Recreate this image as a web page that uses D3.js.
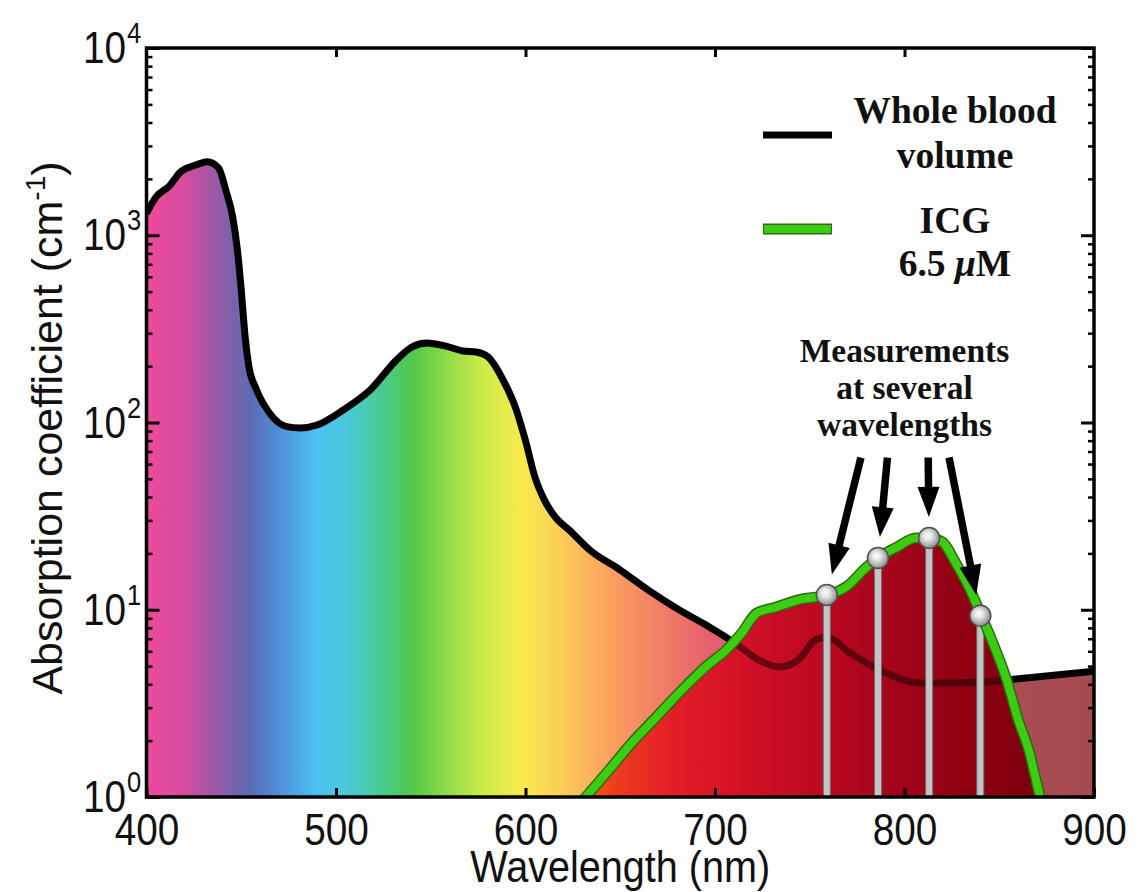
<!DOCTYPE html>
<html>
<head>
<meta charset="utf-8">
<script src="https://cdn.jsdelivr.net/npm/d3@7"></script>
<style>
  body { margin: 0; background: #fff; }
  svg { display: block; }
</style>
</head>
<body>
<div id="chart"></div>
<script>
// whole blood absorption (black curve)
const bloodNm = [400, 405, 412, 418, 426, 432, 438, 442, 445.5, 448, 450, 452, 454, 458, 465, 474, 481, 490, 504, 518, 532, 540, 548, 558, 567, 574, 580, 588, 595, 600, 605, 610, 616, 623, 634, 650, 665, 681, 697, 710, 723, 734, 744, 753, 759, 771, 790, 808, 825, 843, 854, 900]
const bloodMu = [1310, 1600, 1830, 2180, 2370, 2470, 2290, 1720, 1250, 830, 510, 290, 200, 150, 112, 95, 93.5, 97, 117, 149, 216, 253, 266, 256, 241, 238, 225, 170, 118, 80, 51, 38.5, 31, 26.7, 20.8, 16.3, 12.7, 10, 8.1, 6.7, 5.4, 4.95, 5.4, 6.9, 7.15, 5.9, 4.6, 4.06, 4.06, 4.11, 4.22, 4.7]

// ICG 6.5 uM (green outlined curve)
const icgNm = [630, 644, 656, 669, 681, 695, 706, 714, 722, 732, 744, 759, 769, 780, 786, 796, 806, 813, 820, 827, 834, 840, 846, 854, 860, 866, 869, 872]
const icgMu = [0.95, 1.39, 1.94, 2.67, 3.59, 4.95, 6.1, 7.5, 9.6, 10.3, 11.3, 12.0, 13.2, 16.9, 18.9, 21.6, 24.2, 24.2, 23.0, 17.8, 13.2, 9.6, 6.9, 4.2, 2.58, 1.72, 1.28, 0.95]

// measurement wavelengths and where the arrows start
const probeNm = [759, 786, 813, 840]
const probeMu = [12.0, 18.9, 24.2, 9.3]
const arrowFromNm = [777, 791, 812.5, 823.5]
const arrowFromMu = 65

const xTicks = [400, 500, 600, 700, 800, 900]
const yDecades = [0, 1, 2, 3, 4]
const legendLines = [["Whole blood", "volume"], ["ICG", "6.5 \u03bcM"]]
const noteLines = ["Measurements", "at several", "wavelengths"]

// spectrum colours along wavelength
const spectrumNm = [400, 420, 440, 455, 470, 490, 505, 522, 540, 560, 578, 598, 620, 642, 670, 700, 760, 870, 900]
const spectrumCol = ["#ec4a9c", "#d84c9e", "#8e5ca8", "#5c6cb2", "#4e90da", "#4cc2f2", "#4ac8dc", "#48cc98", "#50c84a", "#94dc48", "#cdec48", "#f8ea4e", "#fccc58", "#fba45e", "#f28066", "#e45e6e", "#cc5262", "#a84c52", "#a54a50"]
const icgGradNm = [632, 650, 680, 720, 760, 800, 840, 872]
const icgGradCol = ["#f45a14", "#ee3a1e", "#e21c28", "#d01024", "#b80820", "#a00418", "#8c0010", "#7a000c"]

const width = 1140
const height = 892
const squeeze = "scale(0.88,1)"

const svg = d3.select("#chart").append("svg")
  .attr("width", width)
  .attr("height", height)

const x = d3.scaleLinear().domain([400, 900]).range([146.5, 1094])
const y = d3.scaleLog().domain([1, 1e4]).range([797, 48])

const defs = svg.append("defs")

defs.append("clipPath").attr("id", "plotclip")
  .append("rect")
  .attr("x", x(400)).attr("y", y(1e4))
  .attr("width", x(900) - x(400)).attr("height", y(1) - y(1e4))

const spec = defs.append("linearGradient").attr("id", "spec")
  .attr("gradientUnits", "userSpaceOnUse")
  .attr("x1", x(400)).attr("x2", x(900)).attr("y1", 0).attr("y2", 0)
spectrumNm.forEach((w, i) => {
  spec.append("stop").attr("offset", (w - 400) / 500).attr("stop-color", spectrumCol[i])
})

const icgGrad = defs.append("linearGradient").attr("id", "icggrad")
  .attr("gradientUnits", "userSpaceOnUse")
  .attr("x1", x(400)).attr("x2", x(900)).attr("y1", 0).attr("y2", 0)
icgGradNm.forEach((w, i) => {
  icgGrad.append("stop").attr("offset", (w - 400) / 500).attr("stop-color", icgGradCol[i])
})

const ball = defs.append("radialGradient").attr("id", "ball")
  .attr("cx", "45%").attr("cy", "45%").attr("r", "60%").attr("fx", "42%").attr("fy", "38%")
ball.append("stop").attr("offset", "0%").attr("stop-color", "#ffffff")
ball.append("stop").attr("offset", "35%").attr("stop-color", "#e4e4e4")
ball.append("stop").attr("offset", "100%").attr("stop-color", "#808080")

const blood = bloodNm.map((w, i) => [w, bloodMu[i]])
const icg = icgNm.map((w, i) => [w, icgMu[i]])

const area = d3.area()
  .x(d => x(d[0]))
  .y0(y(1))
  .y1(d => y(Math.max(d[1], 0.5)))
  .curve(d3.curveMonotoneX)
const line = d3.line()
  .x(d => x(d[0]))
  .y(d => y(Math.max(d[1], 0.5)))
  .curve(d3.curveMonotoneX)

defs.append("clipPath").attr("id", "icgclip")
  .append("path").attr("d", area(icg))

const plot = svg.append("g").attr("clip-path", "url(#plotclip)")

plot.append("path").attr("d", area(blood)).attr("fill", "url(#spec)")
plot.append("path").attr("d", line(blood))
  .attr("fill", "none").attr("stroke", "#000").attr("stroke-width", 7)
  .attr("stroke-linejoin", "round")
plot.append("path").attr("d", area(icg)).attr("fill", "url(#icggrad)")
// blood line seen through the ICG fill
plot.append("path").attr("d", line(blood))
  .attr("clip-path", "url(#icgclip)")
  .attr("fill", "none").attr("stroke", "#2a0006").attr("stroke-opacity", 0.6).attr("stroke-width", 7)

// measurement sticks
plot.selectAll("rect.stick")
  .data(probeNm)
  .join("rect")
  .attr("class", "stick")
  .attr("x", d => x(d) - 3.5)
  .attr("y", (d, i) => y(probeMu[i]))
  .attr("width", 7)
  .attr("height", (d, i) => y(1) - y(probeMu[i]))
  .attr("fill", "#c4c4c4")
  .attr("stroke", "#707070")
  .attr("stroke-width", 1)

plot.append("path").attr("d", line(icg))
  .attr("fill", "none").attr("stroke", "#2e6a10").attr("stroke-width", 11)
  .attr("stroke-linejoin", "round")
plot.append("path").attr("d", line(icg))
  .attr("fill", "none").attr("stroke", "#3ccc12").attr("stroke-width", 8)
  .attr("stroke-linejoin", "round")

plot.selectAll("circle.ball")
  .data(probeNm)
  .join("circle")
  .attr("class", "ball")
  .attr("cx", d => x(d))
  .attr("cy", (d, i) => y(probeMu[i]))
  .attr("r", 10.5)
  .attr("fill", "url(#ball)")
  .attr("stroke", "#505050")
  .attr("stroke-width", 1.5)

// arrows
const arrows = svg.append("g")
probeNm.forEach((w, i) => {
  const x0 = x(arrowFromNm[i]), y0 = y(arrowFromMu)
  const x1 = x(w), y1 = y(probeMu[i])
  const len = Math.hypot(x1 - x0, y1 - y0)
  const ux = (x1 - x0) / len, uy = (y1 - y0) / len
  const tipX = x1 - ux * 21, tipY = y1 - uy * 21
  const baseX = tipX - ux * 30, baseY = tipY - uy * 30
  arrows.append("line")
    .attr("x1", x0).attr("y1", y0).attr("x2", baseX + ux * 2).attr("y2", baseY + uy * 2)
    .attr("stroke", "#000").attr("stroke-width", 7.5)
  arrows.append("path")
    .attr("d", `M${tipX},${tipY}L${baseX - uy * 11},${baseY + ux * 11}L${baseX + uy * 11},${baseY - ux * 11}Z`)
    .attr("fill", "#000")
})

// frame
svg.append("rect")
  .attr("x", x(400)).attr("y", y(1e4))
  .attr("width", x(900) - x(400)).attr("height", y(1) - y(1e4))
  .attr("fill", "none").attr("stroke", "#000").attr("stroke-width", 3.5)

// x ticks, inward on bottom and top
const axisFont = "'Liberation Sans', Arial, sans-serif"
svg.append("g")
  .attr("transform", `translate(0,${y(1)})`)
  .call(d3.axisBottom(x).tickValues(xTicks).tickSize(-9).tickPadding(17).tickFormat(d3.format("d")))
  .call(g => g.select(".domain").remove())
  .call(g => g.selectAll("line").attr("stroke-width", 3))
  .call(g => g.selectAll("text").attr("font-size", 44).attr("font-family", axisFont)
    .attr("fill", "#111").attr("transform", squeeze))
svg.append("g")
  .attr("transform", `translate(0,${y(1e4)})`)
  .call(d3.axisTop(x).tickValues(xTicks.slice(1, -1)).tickSize(-9).tickFormat(""))
  .call(g => g.select(".domain").remove())
  .call(g => g.selectAll("line").attr("stroke-width", 3))

// y ticks, log major + minor, left and right
const minor = []
yDecades.slice(0, -1).forEach(p => { for (let k = 2; k <= 9; k++) minor.push(k * Math.pow(10, p)) })
const majors = yDecades.map(p => Math.pow(10, p))
;[[d3.axisLeft, x(400)], [d3.axisRight, x(900)]].forEach(([ax, px]) => {
  svg.append("g").attr("transform", `translate(${px},0)`)
    .call(ax(y).tickValues(majors).tickSize(-13).tickFormat(""))
    .call(g => g.select(".domain").remove())
    .call(g => g.selectAll("line").attr("stroke-width", 3))
  svg.append("g").attr("transform", `translate(${px},0)`)
    .call(ax(y).tickValues(minor).tickSize(-6).tickFormat(""))
    .call(g => g.select(".domain").remove())
    .call(g => g.selectAll("line").attr("stroke-width", 2.5))
})

// y tick labels 10^n
const ylab = svg.append("g")
yDecades.forEach(p => {
  ylab.append("text")
    .attr("transform", `translate(126,${y(Math.pow(10, p)) + 15}) ${squeeze}`)
    .attr("text-anchor", "end")
    .attr("font-family", axisFont).attr("font-size", 44).attr("fill", "#111")
    .text("10")
  ylab.append("text")
    .attr("transform", `translate(127,${y(Math.pow(10, p)) - 5}) ${squeeze}`)
    .attr("font-family", axisFont).attr("font-size", 29).attr("fill", "#111")
    .text(p)
})

// axis titles
svg.append("text")
  .attr("transform", `translate(${(x(400) + x(900)) / 2},882) ${squeeze}`)
  .attr("text-anchor", "middle")
  .attr("font-family", axisFont).attr("font-size", 45).attr("fill", "#111")
  .text("Wavelength (nm)")

const yt = svg.append("text")
  .attr("transform", "translate(62,428) rotate(-90)")
  .attr("text-anchor", "middle")
  .attr("font-family", axisFont).attr("font-size", 43).attr("fill", "#111")
yt.append("tspan").text("Absorption coefficient (cm")
yt.append("tspan").attr("font-size", 28).attr("dy", -17).text("-1")
yt.append("tspan").attr("dy", 17).text(")")

// legend
const serif = "'Liberation Serif', 'Times New Roman', serif"
const legend = svg.append("g")
legend.append("line").attr("x1", 763).attr("x2", 832).attr("y1", 135).attr("y2", 135)
  .attr("stroke", "#000").attr("stroke-width", 7)
legend.append("line").attr("x1", 763).attr("x2", 832).attr("y1", 229).attr("y2", 229)
  .attr("stroke", "#2e6a10").attr("stroke-width", 11)
legend.append("line").attr("x1", 764).attr("x2", 831).attr("y1", 229).attr("y2", 229)
  .attr("stroke", "#3ccc12").attr("stroke-width", 8)

legendLines.forEach((pair, i) => {
  pair.forEach((s, j) => {
    const t = legend.append("text")
      .attr("x", 955).attr("y", [123, 233][i] + j * [45, 43][i])
      .attr("text-anchor", "middle")
      .attr("font-family", serif).attr("font-weight", "bold").attr("font-size", 37.5).attr("fill", "#111")
    if (s.indexOf("\u03bc") >= 0) {
      t.append("tspan").text("6.5 ")
      t.append("tspan").attr("font-style", "italic").text("\u03bc")
      t.append("tspan").text("M")
    } else {
      t.text(s)
    }
  })
})

// annotation
svg.append("g").selectAll("text")
  .data(noteLines)
  .join("text")
  .attr("x", x(800)).attr("y", (d, i) => 362 + i * 37)
  .attr("text-anchor", "middle")
  .attr("font-family", serif).attr("font-weight", "bold").attr("font-size", 33.5).attr("fill", "#111")
  .text(d => d)
</script>
</body>
</html>
